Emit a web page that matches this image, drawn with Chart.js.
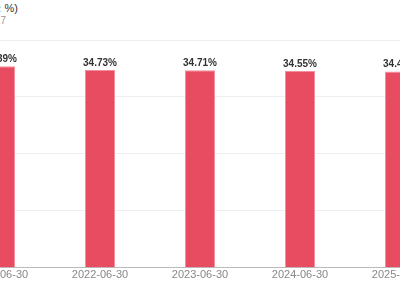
<!DOCTYPE html>
<html>
<head>
<meta charset="utf-8">
<script src="https://cdn.jsdelivr.net/npm/chart.js@4"></script>
<style>
  html, body { margin: 0; padding: 0; background: #fff; }
  body { width: 400px; height: 300px; overflow: hidden; position: relative; font-family: "Liberation Sans", Arial, sans-serif; }
  #wrap { position: absolute; left: -50px; top: 0; width: 500px; height: 300px; }
  .head { position: absolute; white-space: nowrap; text-align: right; }
  #title { right: 382px; top: 1px; font-size: 11px; color: #333; }
  #subtitle { right: 394px; top: 14px; font-size: 10px; color: #999; }
</style>
</head>
<body>
<div class="head" id="title">净利率 (单位：%)</div>
<div class="head" id="subtitle">数据截至 2025-06-30 · 2017</div>
<div id="wrap"><canvas id="chart"></canvas></div>
<script>
const categories = ["2021-06-30", "2022-06-30", "2023-06-30", "2024-06-30", "2025-06-30"];
const values = [35.39, 34.73, 34.71, 34.55, 34.46];
const yTicks = [0, 10, 20, 30, 40];

// draws "xx.xx%" above each bar
const valueLabels = {
    id: "valueLabels",
    afterDatasetsDraw(chart) {
        const ctx = chart.ctx;
        const meta = chart.getDatasetMeta(0);
        ctx.save();
        ctx.font = "bold 10px 'Liberation Sans', Arial, sans-serif";
        ctx.fillStyle = "#333";
        ctx.textAlign = "center";
        ctx.textBaseline = "bottom";
        meta.data.forEach((bar, i) => {
            ctx.fillText(values[i].toFixed(2) + "%", bar.x, bar.y - 2);
        });
        ctx.restore();
    }
};

const ctx = document.getElementById("chart").getContext("2d");
new Chart(ctx, {
    type: "bar",
    data: {
        labels: categories,
        datasets: [{
            data: values,
            backgroundColor: "#e84c61",
            borderColor: "#f58e9b",
            borderWidth: 1,
            categoryPercentage: 1,
            barPercentage: 0.3
        }]
    },
    options: {
        responsive: true,
        maintainAspectRatio: false,
        animation: false,
        layout: { padding: { top: 40, bottom: 17, left: 0, right: 0 } },
        plugins: {
            legend: { display: false },
            tooltip: { enabled: false }
        },
        scales: {
            x: {
                grid: { display: false, drawTicks: false },
                border: { color: "#bbb", width: 1 },
                ticks: { color: "#888", font: { size: 11, family: "'Liberation Sans', Arial, sans-serif" }, padding: 1, maxRotation: 0 }
            },
            y: {
                min: yTicks[0],
                max: yTicks[yTicks.length - 1],
                afterBuildTicks(axis) { axis.ticks = yTicks.map(v => ({ value: v })); },
                grid: { color: "#eeeef5", drawTicks: false },
                border: { display: false },
                ticks: { display: false }
            }
        }
    },
    plugins: [valueLabels]
});
</script>
</body>
</html>
